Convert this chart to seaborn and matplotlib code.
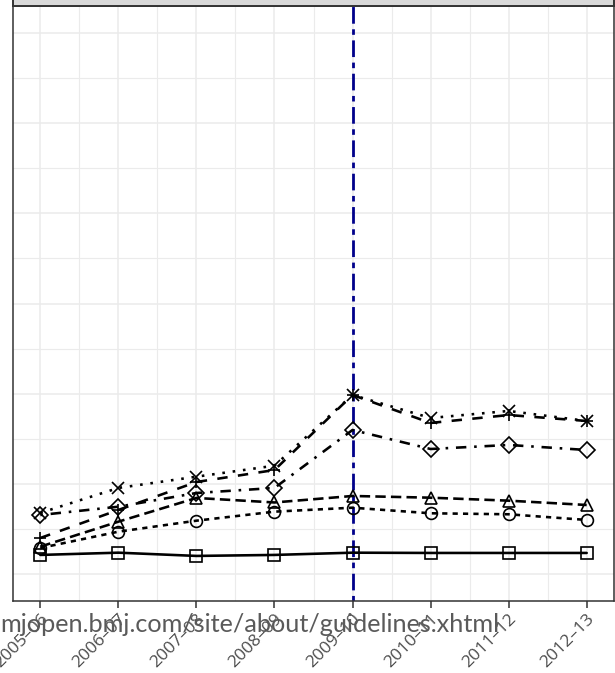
import numpy as np
import pandas as pd
import matplotlib
matplotlib.use("Agg")
import matplotlib.pyplot as plt
from matplotlib.markers import MarkerStyle
from matplotlib.patches import Rectangle
import seaborn as sns

# Reporting years on the x axis
periods = ["2005–06", "2006–07", "2007–08", "2008–09",
           "2009–10", "2010–11", "2011–12", "2012–13"]

# One series per group (values per year)
group_1 = [2.11, 2.36, 2.00, 2.11, 2.36, 2.33, 2.33, 2.33]
group_2 = [2.88, 4.69, 5.91, 6.91, 7.35, 6.73, 6.62, 5.99]
group_3 = [3.03, 5.80, 8.43, 7.93, 8.65, 8.46, 8.13, 7.65]
group_4 = [6.54, 7.46, 8.98, 9.54, 15.97, 13.86, 14.31, 13.75]
group_5 = [3.99, 7.10, 10.20, 11.53, 19.85, 16.75, 17.63, 16.97]
group_6 = [6.77, 9.54, 10.79, 12.01, 19.85, 17.30, 18.08, 16.97]

group_names = ["Group 1", "Group 2", "Group 3", "Group 4", "Group 5", "Group 6"]
policy_period = "2009–10"

series = [group_1, group_2, group_3, group_4, group_5, group_6]
x_pos = np.arange(1, len(periods) + 1)
df = pd.DataFrame({
    "period": np.tile(x_pos, len(series)),
    "value": np.concatenate(series),
    "group": np.repeat(group_names, len(periods)),
})

sns.set_style("white")
plt.rcParams["font.family"] = ["Open Sans", "DejaVu Sans"]

W, H = 615, 673
fig = plt.figure(figsize=(W / 100, H / 100), dpi=100)
left, right, top, bottom = 13, 614, 6, 601
ax = fig.add_axes([left / W, 1 - bottom / H, (right - left) / W, (bottom - top) / H])

markers = {
    "Group 1": MarkerStyle("s", fillstyle="none"),
    "Group 2": MarkerStyle("o", fillstyle="none"),
    "Group 3": MarkerStyle("^", fillstyle="none"),
    "Group 4": MarkerStyle("D", fillstyle="none"),
    "Group 5": MarkerStyle("+"),
    "Group 6": MarkerStyle("x"),
}
dashes = {
    "Group 1": "",
    "Group 2": (2, 2),
    "Group 3": (4, 2),
    "Group 4": (1, 3, 4, 3),
    "Group 5": (4, 4),
    "Group 6": (1, 3),
}

sns.lineplot(data=df, x="period", y="value", style="group", style_order=group_names,
             markers=markers, dashes=dashes, color="black", linewidth=1.87,
             markersize=8.5, markeredgecolor="black", markerfacecolor="none",
             markeredgewidth=1.2, legend=False, estimator=None, sort=False,
             ax=ax, zorder=3)

# vertical reference line at the policy year
ax.axvline(periods.index(policy_period) + 1, color="#00008B", linewidth=2.0,
           dashes=(2, 2, 6, 2), zorder=2)

# scales
ax.set_xlim(1 - 0.35, len(periods) + 0.35)
ax.set_ylim(-3, 63)
ax.set_xticks(x_pos)
ax.set_xticks(x_pos[:-1] + 0.5, minor=True)
ax.set_xticklabels(periods, rotation=45, ha="right", va="top",
                   rotation_mode="anchor", fontsize=12.5, color="#4D4D4D")
ax.set_yticks(np.arange(0, 61, 10))
ax.set_yticks(np.arange(5, 60, 10), minor=True)
ax.set_yticklabels([])
ax.set_xlabel("")
ax.set_ylabel("")

ax.grid(which="major", color="#EBEBEB", linewidth=1.1, zorder=0)
ax.grid(which="minor", color="#EBEBEB", linewidth=0.8, zorder=0)
ax.set_axisbelow(True)

ax.tick_params(axis="x", which="major", length=5, width=1.1, color="#333333",
               pad=2, bottom=True)
ax.tick_params(axis="x", which="minor", length=0)
ax.tick_params(axis="y", which="both", length=0)
for sp in ax.spines.values():
    sp.set_color("#333333")
    sp.set_linewidth(1.1)

# facet strip along the top edge
strip = Rectangle((left / W, 1 - top / H), (right - left) / W, 0.05,
                  transform=fig.transFigure, facecolor="#D9D9D9",
                  edgecolor="#333333", linewidth=1.4, clip_on=False, zorder=5)
fig.patches.append(strip)

fig.text(0.0, 1 - 632 / H, "mjopen.bmj.com/site/about/guidelines.xhtml",
         ha="left", va="baseline", fontsize=18.2, color="#5A5A5A", zorder=10,
         family=["Lato", "DejaVu Sans"])

fig.savefig("out.png", dpi=100)
